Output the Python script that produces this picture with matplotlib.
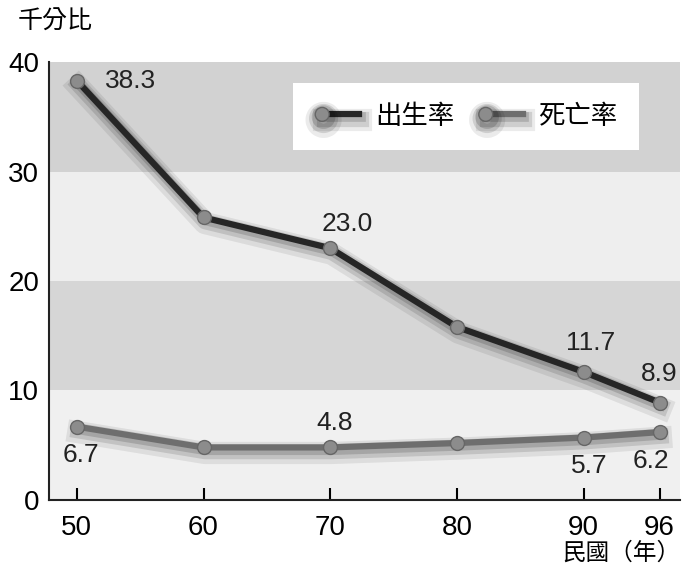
import matplotlib
matplotlib.use("Agg")
import matplotlib.pyplot as plt
import matplotlib.patheffects as pe
from matplotlib.lines import Line2D
from matplotlib.legend_handler import HandlerLine2D

plt.rcParams['font.family'] = ['Liberation Sans', 'Noto Sans CJK TC', 'DejaVu Sans']

# data
years = [50, 60, 70, 80, 90, 96]
birth = [38.3, 25.8, 23.0, 15.8, 11.7, 8.9]
death = [6.7, 4.8, 4.8, 5.2, 5.7, 6.2]
birth_labels = {50: "38.3", 70: "23.0", 90: "11.7", 96: "8.9"}
death_labels = {50: "6.7", 70: "4.8", 90: "5.7", 96: "6.2"}
bands = [(0, 10), (10, 20), (20, 30), (30, 40)]
band_colors = ['#f0f0f0', '#d6d6d6', '#eeeeee', '#d2d2d2']


class MarkerFirst(HandlerLine2D):
    # legend handle with the ball only at the left end
    def create_artists(self, *args, **kwargs):
        arts = super().create_artists(*args, **kwargs)
        for a in arts:
            a.set_markevery([0])
        return arts


fig = plt.figure(figsize=(6.84, 5.69), dpi=100)
ax = fig.add_axes([0.0716, 0.1213, 0.9224, 0.7697])

for (lo, hi), c in zip(bands, band_colors):
    ax.axhspan(lo, hi, color=c, zorder=0, lw=0)

shadow = [pe.SimpleLineShadow(offset=(1, -4), shadow_color='k', alpha=0.08, linewidth=16),
          pe.SimpleLineShadow(offset=(1, -3), shadow_color='k', alpha=0.12, linewidth=11),
          pe.SimpleLineShadow(offset=(1, -2), shadow_color='k', alpha=0.15, linewidth=7),
          pe.Normal()]
mk = dict(marker='o', ms=10, mfc='#8c8c8c', mec='#666666', mew=1)

ax.plot(years, birth, color='#262626', lw=4.5, zorder=3, path_effects=shadow)
ax.plot(years, birth, ls='none', zorder=4, **mk)
ax.plot(years, death, color='#6e6e6e', lw=4.5, zorder=3, path_effects=shadow)
ax.plot(years, death, ls='none', zorder=4, **mk)

# value labels
birth_off = {50: (20, 0, 'left', 'center'), 70: (12, 9, 'center', 'bottom'),
             90: (5, 12, 'center', 'bottom'), 96: (0, 12, 'center', 'bottom')}
death_off = {50: (3, -12, 'center', 'top'), 70: (3, 9, 'center', 'bottom'),
             90: (4, -12, 'center', 'top'), 96: (-6, -12, 'center', 'top')}
for x, y in zip(years, birth):
    if x in birth_labels:
        dx, dy, ha, va = birth_off[x]
        ax.annotate(birth_labels[x], (x, y), xytext=(dx, dy), textcoords='offset points',
                    ha=ha, va=va, fontsize=19, color='#222222', zorder=5)
for x, y in zip(years, death):
    if x in death_labels:
        dx, dy, ha, va = death_off[x]
        ax.annotate(death_labels[x], (x, y), xytext=(dx, dy), textcoords='offset points',
                    ha=ha, va=va, fontsize=19, color='#222222', zorder=5)

ax.set_xlim(47.8, 97.6)
ax.set_ylim(0, 40)
ax.set_xticks(years)
ax.set_yticks([0, 10, 20, 30, 40])
ax.tick_params(axis='x', direction='in', length=9, width=1.5, labelsize=20, pad=11)
ax.tick_params(axis='y', length=0, labelsize=20, pad=7)
for s in ['top', 'right']:
    ax.spines[s].set_visible(False)
for s in ['left', 'bottom']:
    ax.spines[s].set_linewidth(1.5)
    ax.spines[s].set_color('#222222')

h_birth = Line2D([0, 1], [0, 1], color='#262626', lw=4.5, path_effects=shadow, **mk)
h_death = Line2D([0, 1], [0, 1], color='#6e6e6e', lw=4.5, path_effects=shadow, **mk)
leg = ax.legend([h_birth, h_death], ['出生率', '死亡率'], loc='upper left',
                bbox_to_anchor=(0.387, 0.952), borderaxespad=0, ncol=2, fontsize=19,
                numpoints=2, handler_map={Line2D: MarkerFirst()},
                frameon=True, fancybox=False, edgecolor='none', facecolor='white',
                framealpha=1, handlelength=2.0, handletextpad=0.3, columnspacing=0.9,
                borderpad=0.8)

fig.text(0.026, 0.962, '千分比', fontsize=18, ha='left', va='center')
fig.text(0.995, 0.028, '民國（年）', fontsize=17, ha='right', va='center')

fig.savefig('out.png', dpi=100)
